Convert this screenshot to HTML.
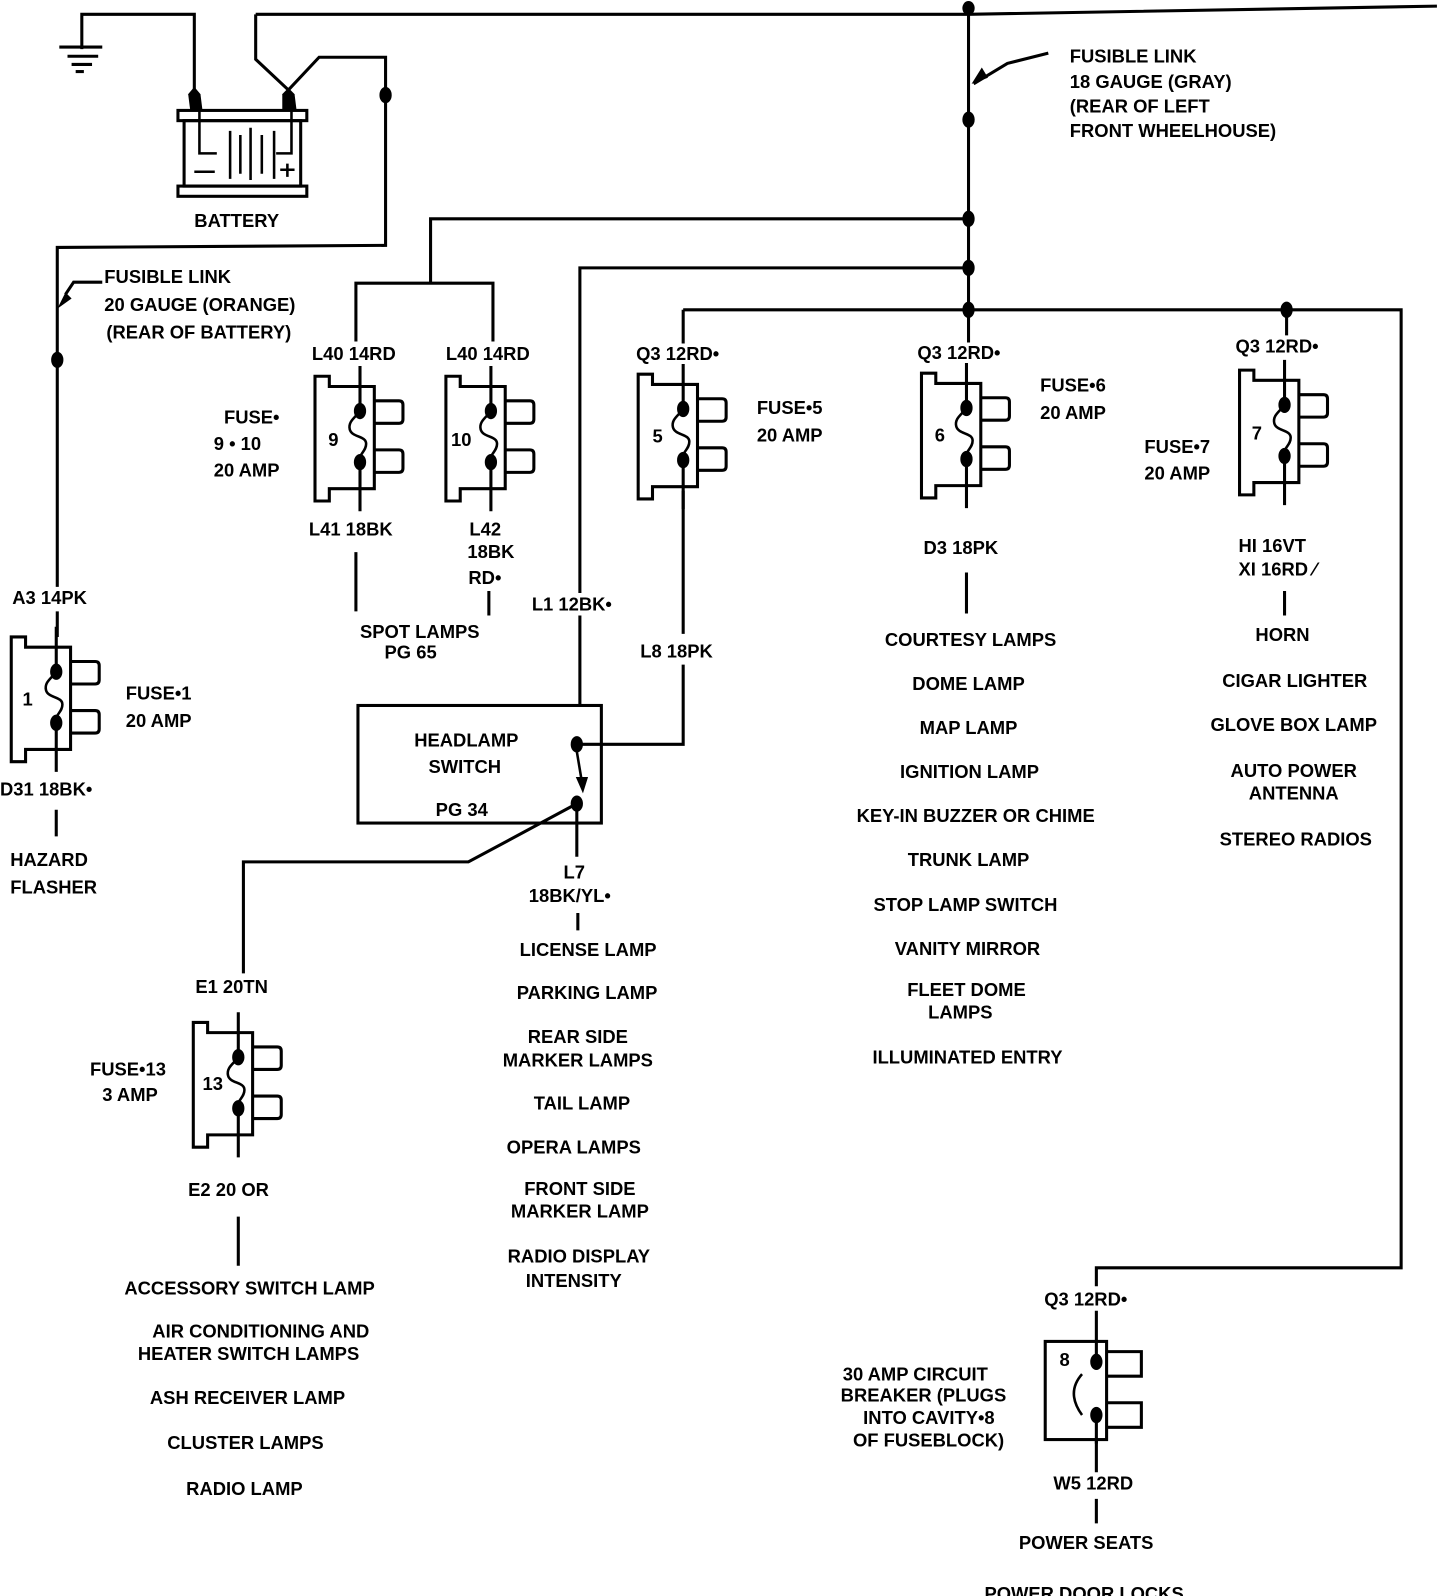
<!DOCTYPE html>
<html><head><meta charset="utf-8"><style>
html,body{margin:0;padding:0;background:#fff;width:1440px;height:1596px;overflow:hidden}
svg{display:block}
text{font-family:"Liberation Sans",sans-serif;font-weight:bold;font-size:18px;fill:#000}
</style></head><body>
<svg width="1440" height="1596" viewBox="0 0 1408 1561" preserveAspectRatio="none" xmlns="http://www.w3.org/2000/svg">
<defs>
<g id="fuse">
<path d="M-44,0 H-30 V10 H14 V110 H-30 V122 H-44 Z" fill="none" stroke="#000" stroke-width="3"/>
<path d="M14,24 H38 Q42,24 42,28 V42 Q42,46 38,46 H14 M14,72 H38 Q42,72 42,76 V90 Q42,94 38,94 H14" fill="none" stroke="#000" stroke-width="3"/>
<path d="M0,-10 V34 M0,84 V132" stroke="#000" stroke-width="3"/>
<path d="M0,34 C-4,40 -12,44 -10,52 C-8,60 6,58 6,66 C6,74 -2,76 0,84" fill="none" stroke="#000" stroke-width="2.5"/>
<ellipse cx="0" cy="34" rx="6" ry="8"/>
<ellipse cx="0" cy="84" rx="6" ry="8"/>
</g>
</defs>
<g fill="none" stroke="#000" stroke-width="3">
<path d="M80,48 V14 H190 V92"/>
<path d="M58,46 H100 M66,55 H96 M70,63 H90" />
<path d="M74,70 H82"/>
<rect x="174" y="108" width="126" height="10"/>
<rect x="180" y="118" width="114" height="64"/>
<rect x="174" y="182" width="126" height="10"/>
<path d="M195,100 V150 H212 M285,100 V150 H270 M225,128 V175 M235,132 V170 M245,125 V176 M256,132 V170 M268,128 V175 M190,168 H210 M274,166 H288 M281,160 V173" stroke-width="2.5"/>
<path d="M250,14 H947 L1405,6"/>
<path d="M250,14 V58 L282,88 L312,56 H377 V240 L56,242 V574 M56,598 V623"/>
<path d="M947,8 V303"/>
<path d="M1025,52 L985,62 L952,82"/>
<path d="M947,214 H421 V277 H348 V334 M421,277 H482 V334"/>
<path d="M947,262 H567 V580 M567,602 V690"/>
<path d="M668,303 H1370 V1240 H1072 V1258"/>
<path d="M668,303 V336 M947,303 V335 M1258,303 V328"/>
<path d="M348,540 V598 M478,578 V602 M668,480 V620 M668,650 V728 H564"/>
<path d="M945,560 V600 M1256,578 V602 M55,792 V818 M233,1190 V1238"/>
<path d="M1072,1282 V1312 M1072,1408 V1440 M1072,1466 V1490"/>
<rect x="350" y="690" width="238" height="115"/>
<path d="M564,786 L458,843 H238 V952"/>
<path d="M564,786 V838 M565,893 V910"/>
<path d="M564,735 L569,765" stroke-width="2.5"/>
<rect x="1022" y="1312" width="60" height="96"/>
<path d="M1082,1322 H1116 V1346 H1082 M1082,1372 H1116 V1396 H1082"/>
<path d="M1072,1312 V1332 M1072,1384 V1412"/>
<path d="M1058,1344 Q1042,1362 1058,1384" stroke-width="2.5"/>
</g>
<polygon points="186,108 198,108 196,92 190,85 184,92"/>
<polygon points="276,108 290,108 288,92 282,86 276,92"/>
<polygon points="950,82 960,66 966,76"/>
<polygon points="56,302 64,286 70,292"/>
<path d="M64,288 L72,276 H100" fill="none" stroke="#000" stroke-width="3"/>
<polygon points="570,776 563,760 575,760"/>
<g>
<ellipse cx="377" cy="93" rx="6" ry="8"/>
<ellipse cx="56" cy="352" rx="6" ry="8"/>
<ellipse cx="947" cy="8" rx="6" ry="7"/>
<ellipse cx="947" cy="117" rx="6" ry="8"/>
<ellipse cx="947" cy="214" rx="6" ry="8"/>
<ellipse cx="947" cy="262" rx="6" ry="8"/>
<ellipse cx="947" cy="303" rx="6" ry="8"/>
<ellipse cx="1258" cy="303" rx="6" ry="8"/>
<ellipse cx="564" cy="728" rx="6" ry="8"/>
<ellipse cx="564" cy="786" rx="6" ry="8"/>
<ellipse cx="1072" cy="1332" rx="6" ry="8"/>
<ellipse cx="1072" cy="1384" rx="6" ry="8"/>
</g>
<use href="#fuse" x="352" y="368"/>
<use href="#fuse" x="480" y="368"/>
<use href="#fuse" x="668" y="366"/>
<use href="#fuse" x="945" y="365"/>
<use href="#fuse" x="1256" y="362"/>
<use href="#fuse" x="55" y="623"/>
<use href="#fuse" x="233" y="1000"/>
<g>
<text x="190" y="222">BATTERY</text>
<text x="1046" y="61">FUSIBLE LINK</text>
<text x="1046" y="86">18 GAUGE (GRAY)</text>
<text x="1046" y="110">(REAR OF LEFT</text>
<text x="1046" y="134">FRONT WHEELHOUSE)</text>
<text x="102" y="277">FUSIBLE LINK</text>
<text x="102" y="304">20 GAUGE (ORANGE)</text>
<text x="104" y="331">(REAR OF BATTERY)</text>
<text x="305" y="352">L40 14RD</text>
<text x="436" y="352">L40 14RD</text>
<text x="622" y="352">Q3 12RD•</text>
<text x="897" y="351">Q3 12RD•</text>
<text x="1208" y="345">Q3 12RD•</text>
<text x="219" y="414">FUSE•</text>
<text x="209" y="440">9 • 10</text>
<text x="209" y="466">20 AMP</text>
<text x="321" y="436">9</text>
<text x="441" y="436">10</text>
<text x="638" y="433">5</text>
<text x="914" y="432">6</text>
<text x="1224" y="430">7</text>
<text x="22" y="690">1</text>
<text x="198" y="1066">13</text>
<text x="1036" y="1336">8</text>
<text x="740" y="405">FUSE•5</text>
<text x="740" y="432">20 AMP</text>
<text x="1017" y="383">FUSE•6</text>
<text x="1017" y="410">20 AMP</text>
<text x="1119" y="443">FUSE•7</text>
<text x="1119" y="469">20 AMP</text>
<text x="302" y="524">L41 18BK</text>
<text x="459" y="524">L42</text>
<text x="457" y="546">18BK</text>
<text x="458" y="571">RD•</text>
<text x="352" y="624">SPOT LAMPS</text>
<text x="376" y="644">PG 65</text>
<text x="520" y="597">L1 12BK•</text>
<text x="626" y="643">L8 18PK</text>
<text x="903" y="542">D3 18PK</text>
<text x="1211" y="540">HI 16VT</text>
<text x="1211" y="563">XI 16RD ⁄</text>
<text x="12" y="591">A3 14PK</text>
<text x="123" y="684">FUSE•1</text>
<text x="123" y="711">20 AMP</text>
<text x="0" y="778">D31 18BK•</text>
<text x="10" y="847">HAZARD</text>
<text x="10" y="874">FLASHER</text>
<text x="405" y="730">HEADLAMP</text>
<text x="419" y="756">SWITCH</text>
<text x="426" y="798">PG 34</text>
<text x="551" y="859">L7</text>
<text x="517" y="882">18BK/YL•</text>
<text x="191" y="971">E1 20TN</text>
<text x="88" y="1052">FUSE•13</text>
<text x="100" y="1077">3 AMP</text>
<text x="184" y="1170">E2 20 OR</text>
<text x="1021" y="1277">Q3 12RD•</text>
<text x="1030" y="1457">W5 12RD</text>
<text x="824" y="1350">30 AMP CIRCUIT</text>
<text x="822" y="1371">BREAKER (PLUGS</text>
<text x="844" y="1393">INTO CAVITY•8</text>
<text x="834" y="1415">OF FUSEBLOCK)</text>
</g>
<g text-anchor="middle">
<text x="949" y="632">COURTESY LAMPS</text>
<text x="947" y="675">DOME LAMP</text>
<text x="947" y="718">MAP LAMP</text>
<text x="948" y="761">IGNITION LAMP</text>
<text x="954" y="804">KEY-IN BUZZER OR CHIME</text>
<text x="947" y="847">TRUNK LAMP</text>
<text x="944" y="891">STOP LAMP SWITCH</text>
<text x="946" y="934">VANITY MIRROR</text>
<text x="945" y="974">FLEET DOME</text>
<text x="939" y="996">LAMPS</text>
<text x="946" y="1040">ILLUMINATED ENTRY</text>
<text x="1254" y="627">HORN</text>
<text x="1266" y="672">CIGAR LIGHTER</text>
<text x="1265" y="715">GLOVE BOX LAMP</text>
<text x="1265" y="760">AUTO POWER</text>
<text x="1265" y="782">ANTENNA</text>
<text x="1267" y="827">STEREO RADIOS</text>
<text x="575" y="935">LICENSE LAMP</text>
<text x="574" y="977">PARKING LAMP</text>
<text x="565" y="1020">REAR SIDE</text>
<text x="565" y="1043">MARKER LAMPS</text>
<text x="569" y="1085">TAIL LAMP</text>
<text x="561" y="1128">OPERA LAMPS</text>
<text x="567" y="1169">FRONT SIDE</text>
<text x="567" y="1191">MARKER LAMP</text>
<text x="566" y="1235">RADIO DISPLAY</text>
<text x="561" y="1259">INTENSITY</text>
<text x="244" y="1266">ACCESSORY SWITCH LAMP</text>
<text x="255" y="1308">AIR CONDITIONING AND</text>
<text x="243" y="1330">HEATER SWITCH LAMPS</text>
<text x="242" y="1373">ASH RECEIVER LAMP</text>
<text x="240" y="1417">CLUSTER LAMPS</text>
<text x="239" y="1462">RADIO LAMP</text>
<text x="1062" y="1515">POWER SEATS</text>
<text x="1060" y="1565">POWER DOOR LOCKS</text>
</g>
</svg>
</body></html>
